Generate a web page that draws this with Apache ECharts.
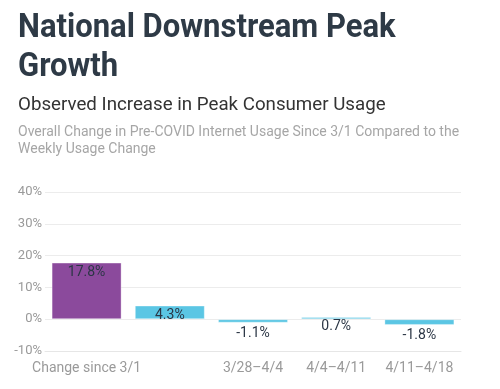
<!DOCTYPE html>
<html><head><meta charset="utf-8">
<script src="https://cdn.jsdelivr.net/npm/echarts@6/dist/echarts.min.js"></script>
<style>html,body{margin:0;padding:0;background:#fff}#c{width:500px;height:389px}</style>
</head><body><div id="c"></div>
<script>
const titleLines = ["National Downstream Peak", "Growth"];
const subtitle = "Observed Increase in Peak Consumer Usage";
const noteLines = ["Overall Change in Pre-COVID Internet Usage Since 3/1 Compared to the", "Weekly Usage Change"];
const categories = ["Change since 3/1", "3/21–3/28", "3/28–4/4", "4/4–4/11", "4/11–4/18"];
const hiddenLabels = [1];
const values = [17.8, 4.3, -1.1, 0.7, -1.8];
const barColors = ["#8b4a9c", "#5bc6e4", "#5bc6e4", "#5bc6e4", "#5bc6e4"];
const yTicks = [-10, 0, 10, 20, 30, 40];

const chart = echarts.init(document.getElementById('c'), null, {renderer: 'canvas'});
const F = 'Roboto';
function txt(text, x, y, font, color, sx) {
  return {type: 'text', x: x, y: y, scaleX: sx,
    style: {text: text, font: font, fill: color, verticalAlign: 'top'}};
}
const data = values.map((v, i) => ({
  value: v,
  itemStyle: {color: barColors[i]},
  label: {position: v >= 2 ? 'insideTop' : 'bottom', distance: v >= 2 ? 3 : (v > 0 ? 0 : 4)}
}));
chart.setOption({
  animation: false,
  graphic: [
    txt(titleLines[0], 18, 12, 'bold 33px Roboto', '#2e3a46', 0.94),
    txt(titleLines[1], 18, 51, 'bold 33px Roboto', '#2e3a46', 0.94),
    txt(subtitle, 18, 96, 'normal 19px Roboto', '#333', 0.985),
    txt(noteLines[0], 18, 125.5, 'normal 14px Roboto', '#a6a6a6', 1),
    txt(noteLines[1], 18, 142.5, 'normal 14px Roboto', '#a6a6a6', 1)
  ],
  grid: {left: 45, right: 39, top: 192, bottom: 38, containLabel: false},
  xAxis: {
    type: 'category', data: categories, position: 'bottom',
    axisLine: {onZero: false, lineStyle: {color: '#e6e6e6'}},
    axisTick: {alignWithLabel: true, length: 4, lineStyle: {color: '#e6e6e6'}},
    axisLabel: {color: '#9a9a9a', fontFamily: F, fontSize: 14, margin: 10,
      interval: (i) => hiddenLabels.indexOf(i) < 0}
  },
  yAxis: {
    type: 'value', min: yTicks[0], max: yTicks[yTicks.length - 1], interval: 10,
    axisLine: {show: false}, axisTick: {show: false},
    axisLabel: {color: '#9a9a9a', fontFamily: F, fontSize: 13, margin: 3, formatter: '{value}%'},
    splitLine: {lineStyle: {color: '#ececec'}}
  },
  series: [{
    type: 'bar', data: data, barWidth: 70,
    itemStyle: {borderColor: 'rgba(255,255,255,0.35)', borderWidth: 1},
    label: {show: true, color: '#2b3645', fontFamily: F, fontSize: 14,
      formatter: (p) => p.value.toFixed(1) + '%'}
  }]
});
</script></body></html>
